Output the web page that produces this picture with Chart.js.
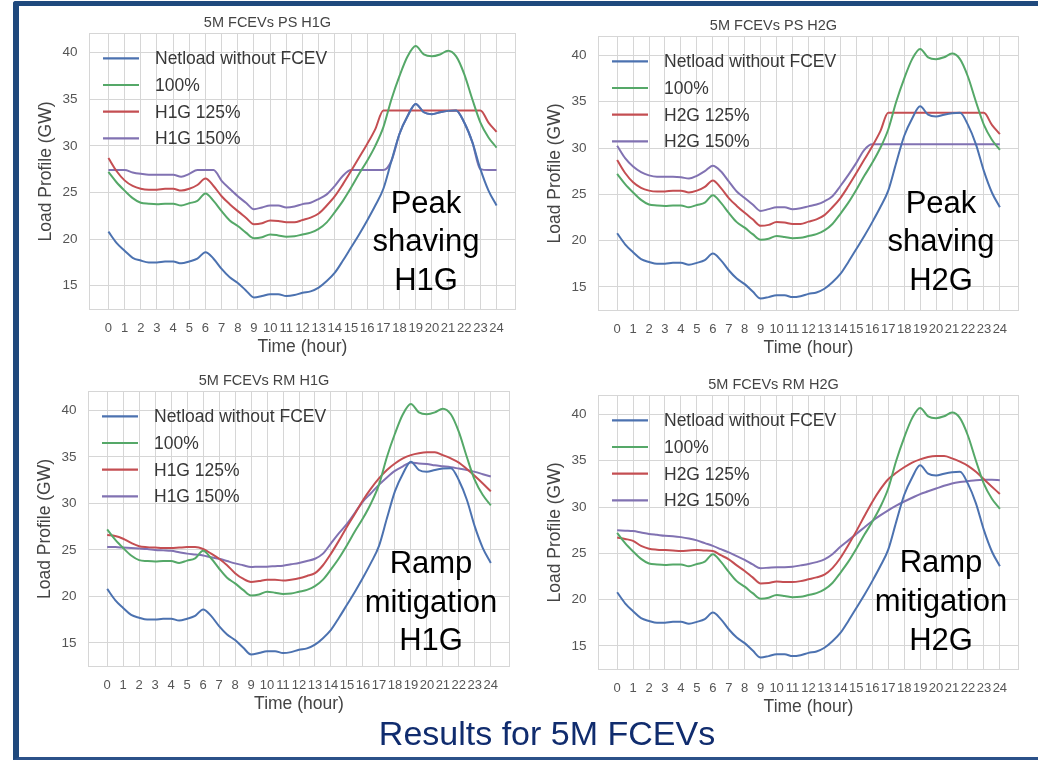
<!DOCTYPE html>
<html>
<head>
<meta charset="utf-8">
<script src="https://cdn.jsdelivr.net/npm/chart.js@4/dist/chart.umd.min.js"></script>
<style>
  html, body { margin: 0; padding: 0; background: #fff; }
  body { width: 1038px; height: 761px; position: relative; overflow: hidden;
         font-family: "Liberation Sans", Arial, sans-serif; }
  #frame { position: absolute; left: 13px; top: 1px; width: 1100px; height: 759px;
           box-sizing: border-box; border-left: 6px solid #1f497d; border-top: 5px solid #1f497d;
           border-bottom: 3px solid #2b5189; border-top-left-radius: 3px; }
  canvas { position: absolute; }
  #caption { position: absolute; left: 297px; width: 500px; top: 716px; text-align: center;
             font-size: 34px; line-height: 34px; color: #102c6e; white-space: nowrap; }
</style>
</head>
<body>
<div id="frame"></div>
<canvas id="psH1G" width="501" height="351" style="left:19px;top:7px"></canvas>
<canvas id="psH2G" width="495" height="349" style="left:528px;top:10px"></canvas>
<canvas id="rmH1G" width="496" height="350" style="left:18px;top:365px"></canvas>
<canvas id="rmH2G" width="495" height="349" style="left:528px;top:369px"></canvas>
<div id="caption">Results for 5M FCEVs</div>

<script>
// Half-hourly load profiles (GW) over one day.
const hours = [0, 0.5, 1, 1.5, 2, 2.5, 3, 3.5, 4, 4.5, 5, 5.5, 6, 6.5, 7, 7.5, 8, 8.5, 9, 9.5,
  10, 10.5, 11, 11.5, 12, 12.5, 13, 13.5, 14, 14.5, 15, 15.5, 16, 16.5, 17, 17.5, 18, 18.5, 19, 19.5,
  20, 20.5, 21, 21.5, 22, 22.5, 23, 23.5, 24];
const hourTicks = [0, 1, 2, 3, 4, 5, 6, 7, 8, 9, 10, 11, 12, 13, 14, 15, 16, 17, 18, 19, 20, 21, 22, 23, 24];
const loadTicks = [15, 20, 25, 30, 35, 40];

const netload = [20.8, 19.6, 18.75, 18.0, 17.7, 17.5, 17.5, 17.6, 17.6, 17.4, 17.6, 17.9, 18.6, 17.9,
  16.8, 15.9, 15.3, 14.5, 13.75, 13.9, 14.1, 14.1, 13.9, 14.0, 14.25, 14.4, 14.8, 15.5, 16.4, 17.7,
  19.1, 20.5, 22.0, 23.6, 25.4, 28.4, 31.3, 33.2, 34.5, 33.6, 33.4, 33.6, 33.75, 33.8, 32.5, 30.4,
  27.5, 25.2, 23.6];
const fcev100 = [27.2, 26.1, 25.2, 24.4, 23.9, 23.8, 23.75, 23.8, 23.8, 23.6, 23.85, 24.1, 24.9, 24.1,
  23.0, 22.0, 21.4, 20.7, 20.1, 20.2, 20.5, 20.4, 20.25, 20.3, 20.5, 20.7, 21.1, 21.8, 22.9, 24.1,
  25.5, 27.0, 28.4, 30.0, 32.0, 35.0, 37.5, 39.6, 40.7, 39.8, 39.6, 39.8, 40.2, 39.6, 37.7, 35.0,
  32.5, 30.9, 29.8];

// Peak shaving
const ps125 = [28.7, 27.3, 26.3, 25.7, 25.4, 25.3, 25.3, 25.4, 25.4, 25.2, 25.4, 25.8, 26.5, 25.7,
  24.6, 23.75, 23.0, 22.3, 21.6, 21.7, 22.0, 21.95, 21.8, 21.8, 22.05, 22.3, 22.75, 23.6, 24.6, 25.9,
  27.3, 28.75, 30.2, 31.8, 33.8, 33.8, 33.8, 33.8, 33.8, 33.8, 33.8, 33.8, 33.8, 33.8, 33.8, 33.8,
  33.8, 32.5, 31.5];
const psH1G150 = [27.4, 27.4, 27.4, 27.15, 27.0, 26.9, 26.9, 26.9, 26.9, 26.7, 27.0, 27.4, 27.4, 27.4,
  26.25, 25.4, 24.6, 23.9, 23.2, 23.4, 23.6, 23.6, 23.4, 23.5, 23.75, 23.9, 24.3, 24.8, 25.7, 26.8,
  27.4, 27.4, 27.4, 27.4, 27.4, 28.4, 31.3, 33.2, 34.5, 33.6, 33.4, 33.6, 33.75, 33.8, 32.5, 30.4,
  27.5, 27.4, 27.4];
const psH2G150 = [30.25, 28.9, 28.0, 27.4, 27.05, 26.9, 26.9, 26.9, 26.85, 26.7, 27.0, 27.5, 28.1, 27.5,
  26.4, 25.3, 24.6, 23.9, 23.2, 23.4, 23.6, 23.6, 23.4, 23.5, 23.7, 23.9, 24.25, 24.8, 25.9, 27.1,
  28.4, 29.8, 30.4, 30.4, 30.4, 30.4, 30.4, 30.4, 30.4, 30.4, 30.4, 30.4, 30.4, 30.4, 30.4, 30.4,
  30.4, 30.4, 30.4];

// Ramp mitigation
const rmH1G125 = [26.6, 26.5, 26.2, 25.75, 25.4, 25.3, 25.25, 25.2, 25.2, 25.25, 25.3, 25.3, 25.1, 24.6,
  24.05, 23.35, 22.5, 21.9, 21.55, 21.65, 21.8, 21.8, 21.7, 21.8, 21.95, 22.2, 22.5, 23.35, 24.6, 26.0,
  27.5, 28.9, 30.35, 31.6, 32.7, 33.6, 34.3, 34.85, 35.2, 35.4, 35.5, 35.5, 35.2, 34.85, 34.4, 33.7,
  32.95, 32.15, 31.3];
const rmH1G150 = [25.3, 25.3, 25.25, 25.2, 25.15, 25.1, 25.0, 24.95, 24.9, 24.75, 24.6, 24.5, 24.4, 24.2,
  24.05, 23.8, 23.55, 23.35, 23.15, 23.2, 23.2, 23.25, 23.3, 23.45, 23.6, 23.8, 24.05, 24.6, 25.7, 26.8,
  27.8, 29.0, 30.2, 31.1, 32.0, 32.8, 33.5, 34.0, 34.4, 34.3, 34.25, 34.1, 34.0, 33.9, 33.75, 33.6,
  33.4, 33.15, 32.9];
const rmH2G125 = [26.7, 26.55, 26.35, 25.8, 25.5, 25.4, 25.35, 25.3, 25.25, 25.3, 25.35, 25.3, 25.25, 24.8,
  24.35, 23.7, 23.1, 22.4, 21.75, 21.8, 21.95, 21.9, 21.9, 22.0, 22.2, 22.4, 22.7, 23.4, 24.5, 25.9,
  27.4, 29.0, 30.55, 31.9, 33.0, 33.7, 34.3, 34.8, 35.15, 35.4, 35.5, 35.5, 35.25, 34.9, 34.45, 33.8,
  33.0, 32.2, 31.4];
const rmH2G150 = [27.5, 27.45, 27.4, 27.25, 27.1, 27.0, 26.9, 26.85, 26.75, 26.6, 26.4, 26.1, 25.8, 25.45,
  25.1, 24.7, 24.3, 23.8, 23.4, 23.45, 23.5, 23.5, 23.55, 23.7, 23.85, 24.05, 24.35, 24.9, 25.7, 26.4,
  27.1, 27.8, 28.5, 29.1, 29.65, 30.15, 30.6, 31.0, 31.4, 31.7, 32.0, 32.3, 32.55, 32.7, 32.8, 32.9,
  32.95, 32.95, 32.9];

const FONT = '"Liberation Sans", Arial, sans-serif';
const COLORS = { net: '#4c72b0', base: '#55a868', c125: '#c44e52', c150: '#8172b2' };
const GRID = '#d6d6d6';

const toPoints = (ys) => hours.map((h, i) => ({ x: h, y: ys[i] }));

// Light frame round the plotting area (all four sides)
const plotFrame = {
  id: 'plotFrame',
  beforeDatasetsDraw(chart) {
    const { ctx, chartArea: a } = chart;
    ctx.save();
    ctx.strokeStyle = GRID;
    ctx.lineWidth = 1;
    ctx.strokeRect(Math.round(a.left) + 0.5, Math.round(a.top) + 0.5,
                   Math.round(a.width) - 1, Math.round(a.height) - 1);
    ctx.restore();
  }
};

// Frameless key in the upper left of the plot
const lineKey = {
  id: 'lineKey',
  afterDatasetsDraw(chart) {
    const { ctx, chartArea: a } = chart;
    ctx.save();
    ctx.font = '17.5px ' + FONT;
    ctx.textBaseline = 'middle';
    ctx.textAlign = 'left';
    chart.data.datasets.forEach((ds, i) => {
      const y = a.top + 25.3 + i * 26.7;
      ctx.strokeStyle = ds.borderColor;
      ctx.lineWidth = 2.2;
      ctx.beginPath();
      ctx.moveTo(a.left + 14, y);
      ctx.lineTo(a.left + 50, y);
      ctx.stroke();
      ctx.fillStyle = '#383838';
      ctx.fillText(ds.label, a.left + 66, y + 1);
    });
    ctx.restore();
  }
};

// Large caption naming the strategy, placed inside the plot
const panelNote = {
  id: 'panelNote',
  afterDatasetsDraw(chart, args, opts) {
    if (!opts || !opts.lines) return;
    const { ctx, chartArea: a } = chart;
    ctx.save();
    ctx.font = '31px ' + FONT;
    ctx.fillStyle = '#000';
    ctx.textAlign = 'center';
    ctx.textBaseline = 'alphabetic';
    opts.lines.forEach((t, i) => ctx.fillText(t, a.left + opts.dx, a.top + opts.dy[i]));
    ctx.restore();
  }
};

function panel(id, title, tag, s125, s150, note) {
  return new Chart(document.getElementById(id), {
    type: 'line',
    data: {
      datasets: [
        { label: 'Netload without FCEV', data: toPoints(netload), borderColor: COLORS.net },
        { label: '100%', data: toPoints(fcev100), borderColor: COLORS.base },
        { label: tag + ' 125%', data: toPoints(s125), borderColor: COLORS.c125 },
        { label: tag + ' 150%', data: toPoints(s150), borderColor: COLORS.c150 }
      ]
    },
    options: {
      responsive: false,
      animation: false,
      devicePixelRatio: 1,
      layout: { padding: { left: 0, right: 4, top: 0, bottom: 0 } },
      elements: {
        point: { radius: 0 },
        line: { borderWidth: 2, cubicInterpolationMode: 'monotone', fill: false }
      },
      scales: {
        x: {
          type: 'linear', min: -1.2, max: 25.2,
          afterBuildTicks: (s) => { s.ticks = hourTicks.map((v) => ({ value: v })); },
          afterFit: (s) => { s.height = 48; },
          grid: { color: GRID, lineWidth: 1, drawTicks: false },
          border: { display: false },
          ticks: { autoSkip: false, maxRotation: 0, minRotation: 0, padding: 11,
                   color: '#555', font: { family: FONT, size: 13 } },
          title: { display: true, text: 'Time (hour)', color: '#444',
                   font: { family: FONT, size: 17.5, lineHeight: 1.2 }, padding: { top: 0, bottom: 0 } }
        },
        y: {
          min: 12.4, max: 42.1,
          afterBuildTicks: (s) => { s.ticks = loadTicks.map((v) => ({ value: v })); },
          afterFit: (s) => { s.width = 70; },
          grid: { color: GRID, lineWidth: 1, drawTicks: false },
          border: { display: false },
          ticks: { padding: 11.5, color: '#555', font: { family: FONT, size: 13.5 } },
          title: { display: true, text: 'Load Profile (GW)', color: '#444',
                   font: { family: FONT, size: 17.5, lineHeight: 1.2 }, padding: { top: 16.5, bottom: 0 } }
        }
      },
      plugins: {
        legend: { display: false },
        tooltip: { enabled: false },
        title: { display: true, text: title, color: '#444',
                 font: { family: FONT, size: 14.5, weight: 'normal', lineHeight: 1.2 },
                 padding: { top: 6.8, bottom: 1.8 } },
        panelNote: note
      }
    },
    plugins: [plotFrame, lineKey, panelNote]
  });
}

panel('psH1G', '5M FCEVs PS H1G', 'H1G', ps125, psH1G150,
      { lines: ['Peak', 'shaving', 'H1G'], dx: 337, dy: [180, 217.5, 257] });
panel('psH2G', '5M FCEVs PS H2G', 'H2G', ps125, psH2G150,
      { lines: ['Peak', 'shaving', 'H2G'], dx: 343, dy: [177, 214.5, 254] });
panel('rmH1G', '5M FCEVs RM H1G', 'H1G', rmH1G125, rmH1G150,
      { lines: ['Ramp', 'mitigation', 'H1G'], dx: 343, dy: [182, 221, 259] });
panel('rmH2G', '5M FCEVs RM H2G', 'H2G', rmH2G125, rmH2G150,
      { lines: ['Ramp', 'mitigation', 'H2G'], dx: 343, dy: [177, 215.5, 255] });
</script>
</body>
</html>
